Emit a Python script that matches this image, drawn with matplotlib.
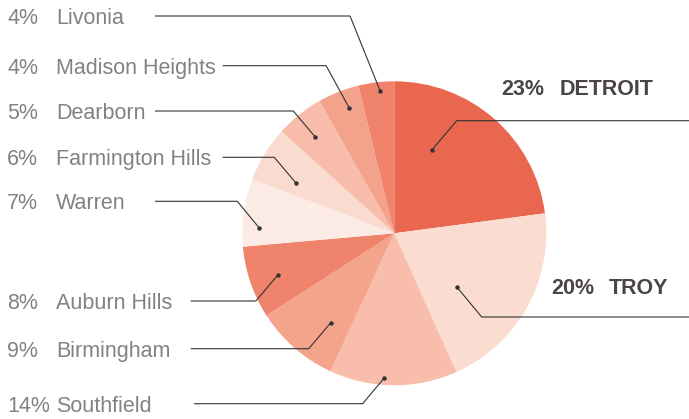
import matplotlib
matplotlib.use("Agg")
import matplotlib.pyplot as plt
import numpy as np

# ================= data =================
cities = ["DETROIT", "TROY", "Southfield", "Birmingham", "Auburn Hills",
          "Warren", "Farmington Hills", "Dearborn", "Madison Heights", "Livonia"]
shares = [22.9, 20.4, 13.6, 9.0, 7.7, 7.2, 5.9, 5.1, 4.4, 3.8]
colors = ["#E9674E", "#FADCD1", "#F8BDAB", "#F3A48B", "#EF836B",
          "#FCEBE4", "#FADBD0", "#F8BCAA", "#F3A38B", "#EF836B"]

# ================= layout (pixels, measured from the top) =================
W, H = 689, 419
CENTER = (394.3, 233.3)
RADIUS = 152

# where the leader dot sits inside each wedge: (fraction of sweep, fraction of radius)
anchor = [(0.294, 0.60), (0.657, 0.544), (0.574, 0.954), (0.326, 0.722), (0.471, 0.814),
          (0.287, 0.891), (0.288, 0.724), (0.462, 0.822), (0.614, 0.878), (0.583, 0.943)]
line_y = [120.7, 317, 403.7, 348.7, 301, 201.3, 157.3, 111, 65.7, 16]
elbow_dx = [25, 24.7, -21.6, -22, -22, -21.7, -22, -21.7, -23, -30]
line_end = [689, 689, 194, 190.7, 190.7, 155, 222.7, 155, 222.7, 155]
# right-hand bold labels: (x of pct, y of text center)
right_lab = {0: (501.7, 87.3), 1: (551, 286.7)}

FONT = "Liberation Sans"
GREY = "#828282"
DARK = "#4A4446"
LINE = "#333333"


def fy(py):
    # convert a pixel row from the top into data y
    return H - py


fig = plt.figure(figsize=(W / 100, H / 100), dpi=100)
ax = fig.add_axes([0, 0, 1, 1])

wedges, _ = ax.pie(shares, colors=colors, startangle=90, counterclock=False,
                   center=(CENTER[0], fy(CENTER[1])), radius=RADIUS, frame=True,
                   wedgeprops=dict(linewidth=0))
ax.set_xlim(0, W)
ax.set_ylim(0, H)
ax.set_aspect("equal")
ax.axis("off")

for i, w in enumerate(wedges):
    t, rf = anchor[i]
    ang = np.deg2rad(w.theta2 - t * (w.theta2 - w.theta1))
    dx = CENTER[0] + rf * RADIUS * np.cos(ang)
    dy = fy(CENTER[1]) + rf * RADIUS * np.sin(ang)
    ey = fy(line_y[i])
    ex = dx + elbow_dx[i]
    ax.plot([dx, ex, line_end[i]], [dy, ey, ey], color=LINE, lw=0.8,
            solid_capstyle="butt", zorder=3)
    ax.plot(dx, dy, "o", color=LINE, ms=2.2, zorder=4)

    pct = f"{shares[i]:.0f}%"
    if i in right_lab:
        px, py = right_lab[i]
        ax.text(px, fy(py + 7.7), pct, fontsize=15.5, fontweight="bold",
                color=DARK, family=FONT, va="baseline", ha="left")
        ax.text(px + 57.5, fy(py + 7.7), cities[i], fontsize=15.5, fontweight="bold",
                color=DARK, family=FONT, va="baseline", ha="left")
    else:
        base = fy(line_y[i] + 8)
        ax.text(7, base, pct, fontsize=15.5, color=GREY, family=FONT,
                va="baseline", ha="left")
        ax.text(56, base, cities[i], fontsize=15.5, color=GREY, family=FONT,
                va="baseline", ha="left")

fig.savefig("out.png", dpi=100)
plt.close(fig)
